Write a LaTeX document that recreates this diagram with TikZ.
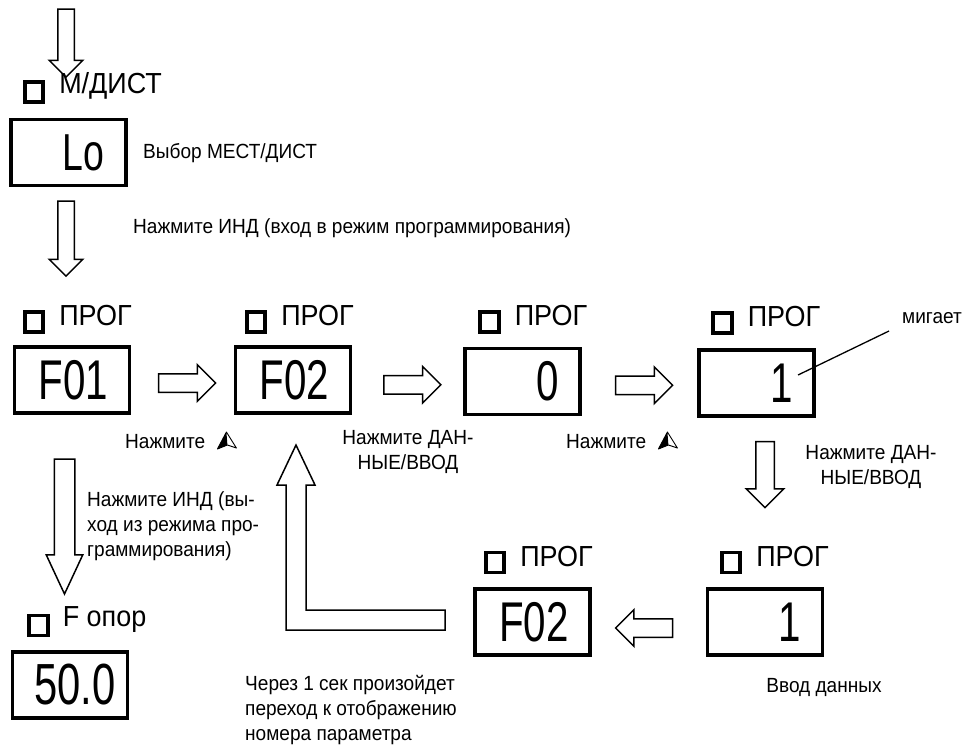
\documentclass[tikz,border=0pt]{standalone}
\usepackage{fontspec}
\setmainfont[FakeStretch=0.93]{Liberation Sans}
\newfontfamily\digfont[FakeStretch=0.72]{Liberation Sans}
\usetikzlibrary{shapes.arrows,positioning,calc}
\tikzset{
  navarrow/.pic={
    \fill (0,-9)--(-9,8)--(1,4)--cycle;
    \draw[line width=0.9pt,line join=round] (0,-9)--(-9,8)--(1,4)--(10,7)--cycle;
  }
}
\begin{document}
\begin{tikzpicture}[x=1pt,y=-1pt,
  box/.style={draw,line width=3.5pt,minimum width=115pt,minimum height=66pt,inner xsep=21pt,inner ysep=0pt,
    text width=72pt,align=right,font=\digfont\fontsize{56}{56}\selectfont},
  indsq/.style={draw,line width=3.6pt,minimum width=18.5pt,minimum height=20pt,inner sep=0pt},
  ind/.style={font=\fontsize{29}{30}\selectfont,inner sep=0pt,yshift=6pt},
  note/.style={font=\fontsize{20.5}{25}\selectfont,inner sep=0pt},
  blk/.style={single arrow,draw,line width=1.5pt,inner xsep=0pt,inner ysep=8.5pt,
    single arrow head extend=9pt,minimum height=57pt}]
\useasboundingbox (0,0) rectangle (965,748);
% top: local/remote
\node[blk,rotate=-90,minimum height=68pt,inner ysep=7.5pt,single arrow head extend=8.5pt] (in) at (66,39) {};
\node[indsq,label={[ind,label distance=14pt]right:М/ДИСТ}] (s0) at (34,92) {};
\node[box,font=\digfont\fontsize{52}{52}\selectfont] (lo) at (68.5,152.5) {Lo};
\node[note,anchor=west] (lon) at (143,153) {Выбор МЕСТ/ДИСТ};
\node[blk,rotate=-90,minimum height=75pt,inner ysep=7.5pt,single arrow head extend=8.5pt] (a0) at (66,234.5) {};
\node[note,anchor=west] (a0n) at (133,228) {Нажмите ИНД (вход в режим программирования)};
% first row
\node[indsq,label={[ind,label distance=14pt]right:ПРОГ}] (s1) at (34,322) {};
\node[indsq,label={[ind,label distance=14pt]right:ПРОГ}] (s2) at (256,322) {};
\node[indsq,label={[ind,label distance=14pt]right:ПРОГ}] (s3) at (489.5,322) {};
\node[indsq,label={[ind,label distance=14pt]right:ПРОГ}] (s4) at (722.5,323) {};
\node[box] (f01) at (72,380) {F01};
\node[box] (f02) at (293,380) {F02};
\node[box] (v0) at (522.5,381.5) {0};
\node[box] (v1) at (756.5,383) {1};
\node[blk] (a1) at ($(f01.east)!0.5!(f02.west)+(0,3)$) {};
\node[blk] (a2) at ($(f02.east)!0.5!(v0.west)+(0,4)$) {};
\node[blk] (a3) at ($(v0.east)!0.5!(v1.west)+(0,3)$) {};
\node[note,anchor=west] (a1n) at (125,442) {Нажмите};
\pic at ([xshift=21pt,yshift=1pt]a1n.east) {navarrow};
\node[note,align=center] (a2n) at (408,452) {Нажмите ДАН-\\НЫЕ/ВВОД};
\node[note,anchor=west] (a3n) at (566,442) {Нажмите};
\pic at ([xshift=21pt,yshift=1pt]a3n.east) {navarrow};
\node[note] (blink) at (932,318) {мигает};
\draw[line width=1.3pt] (798,375) -- ([xshift=-13pt,yshift=-13pt]blink.west);
% down to second row
\node[blk,rotate=-90,minimum height=66pt,inner ysep=8.5pt,single arrow head extend=9.5pt] (a4) at (765,470) {};
\node[note,align=center] (a4n) at (871,467) {Нажмите ДАН-\\НЫЕ/ВВОД};
% second row
\node[indsq,label={[ind,label distance=14pt]right:ПРОГ}] (s5) at (731,562.5) {};
\node[indsq,label={[ind,label distance=14pt]right:ПРОГ}] (s6) at (495,562.5) {};
\node[box] (w1) at (765,622) {1};
\node[box] (w2) at (532.5,622) {F02};
\node[blk,rotate=180] (a5) at ($(w2.east)!0.5!(w1.west)+(0,6)$) {};
\node[note] (w1n) at (824,687) {Ввод данных};
\draw[line width=1.5pt,line join=miter] (445,610) -- (306,610) -- (306,485) -- (315,485) -- (296,445)
  -- (277,485) -- (286,485) -- (286,630) -- (445,630) -- cycle;
\node[note,anchor=north west,align=left] (w2n) at (245,675) {Через 1 сек произойдет\\переход к отображению\\номера параметра};
% exit
\node[blk,rotate=-90,minimum height=135pt,inner ysep=9.5pt,single arrow tip angle=50,single arrow head extend=8pt] (a6) at (64.5,515.5) {};
\node[note,align=left,anchor=west] (a6n) at (87,526) {Нажмите ИНД (вы-\\ход из режима про-\\граммирования)};
\node[indsq,label={[ind,label distance=13pt]right:F опор}] (s7) at (38.5,625.5) {};
\node[box,font=\digfont\fontsize{58}{58}\selectfont] (fr) at (70,685) {50.0};
\end{tikzpicture}
\end{document}
